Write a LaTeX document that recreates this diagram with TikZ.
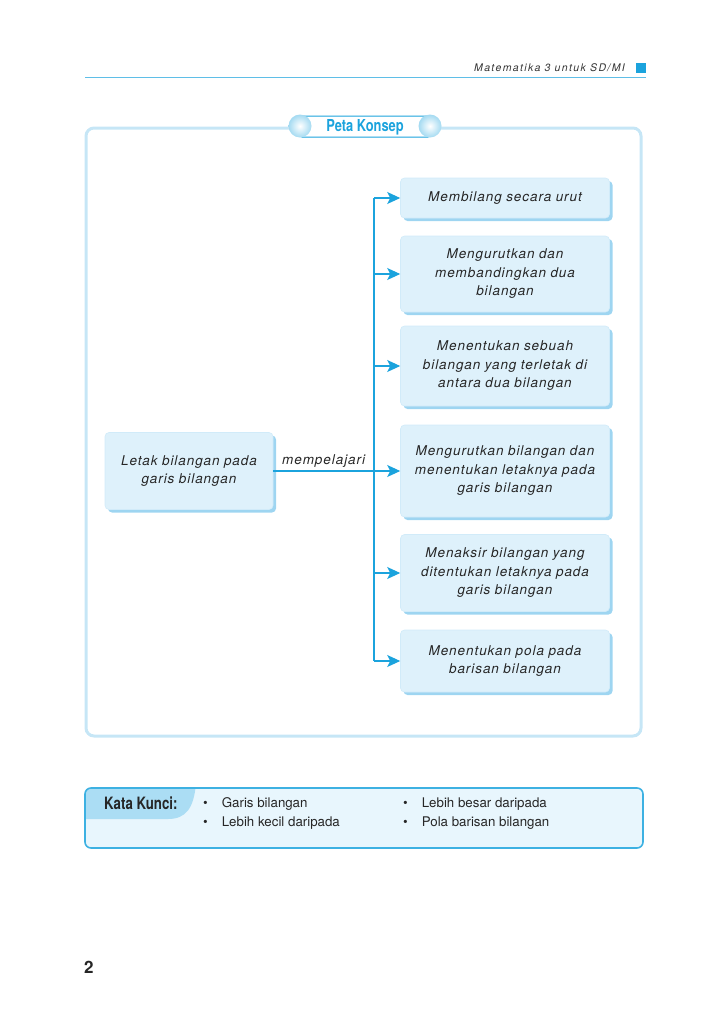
\documentclass[tikz,border=0pt]{standalone}
\usepackage{fontspec}
\setmainfont{TeX Gyre Heros}
\newfontfamily\judul[FakeStretch=0.78]{TeX Gyre Heros}
\newfontfamily\renggang[LetterSpace=7]{TeX Gyre Heros}
\newfontfamily\kepalafont[LetterSpace=13]{TeX Gyre Heros}
\usetikzlibrary{arrows.meta,shadows,positioning}
\definecolor{garis}{HTML}{1BA3DD}
\definecolor{isi}{HTML}{DEF1FB}
\definecolor{bayang}{HTML}{9ED5F1}
\definecolor{bingkai}{HTML}{C6E6F6}
\definecolor{kunci}{HTML}{E8F6FD}
\definecolor{tab}{HTML}{ABDDF4}
\tikzset{
  konsep/.style={rectangle, rounded corners=4pt, fill=isi, draw=isi!80!bayang, line width=0.6pt,
    drop shadow={fill=bayang, shadow xshift=3pt, shadow yshift=-3pt, opacity=1},
    align=center, font=\renggang\itshape\fontsize{13.5}{18.5}\selectfont, text=black!85, inner sep=4pt},
  kanan/.style={konsep, minimum width=209pt, text width=200pt},
  panah/.style={draw=garis, line width=1.1pt, -{Stealth[length=13pt,width=12pt,inset=3pt]}},
  bola/.style={circle, minimum size=23pt, inner sep=0pt, draw=none,
    shading=radial, inner color=white, outer color=garis!40!white},
}
\begin{document}
\begin{tikzpicture}[x=1pt,y=-1pt]
  \useasboundingbox (0,0) rectangle (728,1029);
  % kepala halaman
  \node[anchor=east, font=\kepalafont\itshape\fontsize{10.5}{12}\selectfont, text=black!80, inner sep=0pt] (kepala) at (625,68) {Matematika 3 untuk SD/MI};
  \fill[garis] (636,63) rectangle (646,73);
  \draw[garis!70!white, line width=0.8pt] (85,77) -- (646,77);

  % bingkai peta konsep
  \draw[bingkai, line width=3pt, rounded corners=8pt] (86,128) rectangle (641,736);
  \draw[garis, line width=1pt, fill=white, rounded corners=2pt] (300,116) rectangle (430,137);
  \node[bola] (bolakiri) at (300,126) {};
  \node[bola] (bolakanan) at (430,126) {};
  \node[font=\judul\bfseries\fontsize{16.5}{18}\selectfont, text=garis] (peta) at (365,127) {Peta Konsep};

  % kotak-kotak konsep
  \node[konsep, minimum width=166pt, minimum height=77pt, text width=160pt] (letak) at (189,471) {Letak bilangan pada\\garis bilangan};
  \node[kanan, minimum height=40pt] (k1) at (505,198) {Membilang secara urut};
  \node[kanan, minimum height=76pt] (k2) at (505,274) {Mengurutkan dan\\membandingkan dua\\bilangan};
  \node[kanan, minimum height=80pt] (k3) at (505,366) {Menentukan sebuah\\bilangan yang terletak di\\antara dua bilangan};
  \node[kanan, minimum height=92pt] (k4) at (505,471) {Mengurutkan bilangan dan\\menentukan letaknya pada\\garis bilangan};
  \node[kanan, minimum height=77pt] (k5) at (505,573) {Menaksir bilangan yang\\ditentukan letaknya pada\\garis bilangan};
  \node[kanan, minimum height=62pt] (k6) at (505,661) {Menentukan pola pada\\barisan bilangan};

  % penghubung
  \coordinate (cabang) at (374,471);
  \draw[garis, line width=1.1pt] (letak.east) -- node[above, font=\renggang\itshape\fontsize{13.5}{14}\selectfont, text=black!85] {mempelajari} (cabang);
  \draw[garis, line width=1.1pt] (cabang |- k1.west) -- (cabang |- k6.west);
  \foreach \k in {k1,k2,k3,k4,k5,k6}
    \draw[panah] (cabang |- \k.west) -- (\k.west);

  % kata kunci
  \begin{scope}
    \clip[rounded corners=6pt] (85,788) rectangle (643,848);
    \fill[kunci] (85,788) rectangle (643,848);
    \fill[tab] (80,783) -- (196,783) .. controls (194,808) and (186,819) .. (168,819) -- (80,819) -- cycle;
  \end{scope}
  \draw[garis!85!white, line width=1.6pt, rounded corners=6pt] (85,788) rectangle (643,848);
  \node[anchor=west, font=\judul\bfseries\fontsize{17}{18}\selectfont, text=black!85, inner sep=0pt] (katakunci) at (104,803) {Kata Kunci:};
  \begin{scope}[every node/.style={anchor=west, font=\fontsize{13.3}{15}\selectfont, text=black!85, inner sep=0pt}]
    \node (a1) at (203,804) {\textbullet\hspace{14pt}Garis bilangan};
    \node (a2) at (203,823) {\textbullet\hspace{14pt}Lebih kecil daripada};
    \node (b1) at (403,804) {\textbullet\hspace{14pt}Lebih besar daripada};
    \node (b2) at (403,823) {\textbullet\hspace{14pt}Pola barisan bilangan};
  \end{scope}

  % nomor halaman
  \node[anchor=west, font=\bfseries\fontsize{17}{18}\selectfont, text=black!85, inner sep=0pt] (nomor) at (84,967) {2};
\end{tikzpicture}
\end{document}
